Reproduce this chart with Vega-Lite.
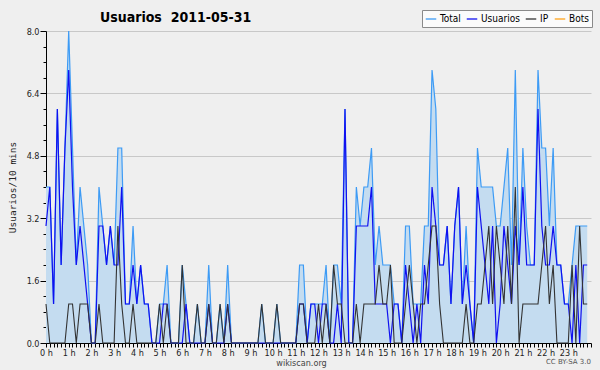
{
  "$schema": "https://vega.github.io/schema/vega-lite/v6.json",
  "autosize": "none",
  "width": 545,
  "height": 312,
  "padding": {"left": 46, "top": 31, "right": 9, "bottom": 27},
  "background": "#efefef",
  "title": {"text": "Usuarios\u00a0 2011-05-31", "anchor": "start", "frame": "group", "dx": 54, "dy": 21, "offset": 6, "fontSize": 14, "fontWeight": "bold", "font": "DejaVu Sans Condensed", "color": "#000"},
  "config": {
    "view": {"stroke": null, "fill": "#efefef"},
    "axis": {"domainColor": "#000", "tickColor": "#000", "labelFont": "DejaVu Sans Condensed", "labelFontSize": 9, "labelColor": "#222", "titleFont": "DejaVu Sans Mono", "titleFontWeight": "normal"}
  },
  "data": {"values": [
    {"m":0,"Total":4,"Usuarios":3,"IP":1},{"m":10,"Total":4,"Usuarios":4,"IP":0},{"m":20,"Total":1,"Usuarios":1,"IP":0},{"m":30,"Total":6,"Usuarios":6,"IP":0},{"m":40,"Total":2,"Usuarios":2,"IP":0},{"m":50,"Total":5,"Usuarios":5,"IP":0},
    {"m":60,"Total":8,"Usuarios":7,"IP":1},{"m":70,"Total":5,"Usuarios":4,"IP":1},{"m":80,"Total":2,"Usuarios":2,"IP":0},{"m":90,"Total":4,"Usuarios":3,"IP":1},{"m":100,"Total":3,"Usuarios":2,"IP":1},{"m":110,"Total":2,"Usuarios":1,"IP":1},
    {"m":120,"Total":0,"Usuarios":0,"IP":0},{"m":130,"Total":0,"Usuarios":0,"IP":0},{"m":140,"Total":4,"Usuarios":3,"IP":1},{"m":150,"Total":3,"Usuarios":3,"IP":0},{"m":160,"Total":2,"Usuarios":2,"IP":0},{"m":170,"Total":3,"Usuarios":3,"IP":0},
    {"m":180,"Total":2,"Usuarios":2,"IP":0},{"m":190,"Total":5,"Usuarios":2,"IP":3},{"m":200,"Total":5,"Usuarios":4,"IP":1},{"m":210,"Total":1,"Usuarios":1,"IP":0},{"m":220,"Total":1,"Usuarios":1,"IP":0},{"m":230,"Total":3,"Usuarios":2,"IP":1},
    {"m":240,"Total":1,"Usuarios":1,"IP":0},{"m":250,"Total":2,"Usuarios":2,"IP":0},{"m":260,"Total":1,"Usuarios":1,"IP":0},{"m":270,"Total":1,"Usuarios":1,"IP":0},{"m":280,"Total":0,"Usuarios":0,"IP":0},{"m":290,"Total":0,"Usuarios":0,"IP":0},
    {"m":300,"Total":1,"Usuarios":0,"IP":1},{"m":310,"Total":1,"Usuarios":1,"IP":0},{"m":320,"Total":2,"Usuarios":1,"IP":1},{"m":330,"Total":0,"Usuarios":0,"IP":0},{"m":340,"Total":0,"Usuarios":0,"IP":0},{"m":350,"Total":0,"Usuarios":0,"IP":0},
    {"m":360,"Total":2,"Usuarios":0,"IP":2},{"m":370,"Total":1,"Usuarios":1,"IP":0},{"m":380,"Total":0,"Usuarios":0,"IP":0},{"m":390,"Total":0,"Usuarios":0,"IP":0},{"m":400,"Total":1,"Usuarios":0,"IP":1},{"m":410,"Total":0,"Usuarios":0,"IP":0},
    {"m":420,"Total":0,"Usuarios":0,"IP":0},{"m":430,"Total":2,"Usuarios":1,"IP":1},{"m":440,"Total":0,"Usuarios":0,"IP":0},{"m":450,"Total":0,"Usuarios":0,"IP":0},{"m":460,"Total":1,"Usuarios":0,"IP":1},{"m":470,"Total":0,"Usuarios":0,"IP":0},
    {"m":480,"Total":2,"Usuarios":1,"IP":1},{"m":490,"Total":0,"Usuarios":0,"IP":0},{"m":500,"Total":0,"Usuarios":0,"IP":0},{"m":510,"Total":0,"Usuarios":0,"IP":0},{"m":520,"Total":0,"Usuarios":0,"IP":0},{"m":530,"Total":0,"Usuarios":0,"IP":0},
    {"m":540,"Total":0,"Usuarios":0,"IP":0},{"m":550,"Total":0,"Usuarios":0,"IP":0},{"m":560,"Total":0,"Usuarios":0,"IP":0},{"m":570,"Total":1,"Usuarios":0,"IP":1},{"m":580,"Total":0,"Usuarios":0,"IP":0},{"m":590,"Total":0,"Usuarios":0,"IP":0},
    {"m":600,"Total":0,"Usuarios":0,"IP":0},{"m":610,"Total":1,"Usuarios":0,"IP":1},{"m":620,"Total":0,"Usuarios":0,"IP":0},{"m":630,"Total":0,"Usuarios":0,"IP":0},{"m":640,"Total":0,"Usuarios":0,"IP":0},{"m":650,"Total":0,"Usuarios":0,"IP":0},
    {"m":660,"Total":0,"Usuarios":0,"IP":0},{"m":670,"Total":2,"Usuarios":1,"IP":1},{"m":680,"Total":2,"Usuarios":1,"IP":1},{"m":690,"Total":0,"Usuarios":0,"IP":0},{"m":700,"Total":1,"Usuarios":1,"IP":0},{"m":710,"Total":1,"Usuarios":1,"IP":0},
    {"m":720,"Total":1,"Usuarios":0,"IP":1},{"m":730,"Total":1,"Usuarios":1,"IP":0},{"m":740,"Total":2,"Usuarios":1,"IP":1},{"m":750,"Total":0,"Usuarios":0,"IP":0},{"m":760,"Total":2,"Usuarios":0,"IP":2},{"m":770,"Total":2,"Usuarios":1,"IP":1},
    {"m":780,"Total":1,"Usuarios":0,"IP":1},{"m":790,"Total":6,"Usuarios":6,"IP":0},{"m":800,"Total":0,"Usuarios":0,"IP":0},{"m":810,"Total":0,"Usuarios":0,"IP":0},{"m":820,"Total":4,"Usuarios":3,"IP":1},{"m":830,"Total":3,"Usuarios":3,"IP":0},
    {"m":840,"Total":4,"Usuarios":3,"IP":1},{"m":850,"Total":4,"Usuarios":3,"IP":1},{"m":860,"Total":5,"Usuarios":4,"IP":1},{"m":870,"Total":2,"Usuarios":1,"IP":1},{"m":880,"Total":3,"Usuarios":1,"IP":2},{"m":890,"Total":2,"Usuarios":1,"IP":1},
    {"m":900,"Total":2,"Usuarios":1,"IP":1},{"m":910,"Total":2,"Usuarios":0,"IP":2},{"m":920,"Total":1,"Usuarios":1,"IP":0},{"m":930,"Total":1,"Usuarios":1,"IP":0},{"m":940,"Total":0,"Usuarios":0,"IP":0},{"m":950,"Total":3,"Usuarios":2,"IP":1},
    {"m":960,"Total":3,"Usuarios":1,"IP":2},{"m":970,"Total":1,"Usuarios":0,"IP":1},{"m":980,"Total":1,"Usuarios":1,"IP":0},{"m":990,"Total":1,"Usuarios":0,"IP":1},{"m":1000,"Total":3,"Usuarios":2,"IP":1},{"m":1010,"Total":3,"Usuarios":1,"IP":2},
    {"m":1020,"Total":7,"Usuarios":4,"IP":3},{"m":1030,"Total":6,"Usuarios":3,"IP":3},{"m":1040,"Total":2,"Usuarios":2,"IP":1},{"m":1050,"Total":2,"Usuarios":2,"IP":0},{"m":1060,"Total":3,"Usuarios":3,"IP":0},{"m":1070,"Total":1,"Usuarios":1,"IP":0},
    {"m":1080,"Total":3,"Usuarios":3,"IP":0},{"m":1090,"Total":4,"Usuarios":4,"IP":0},{"m":1100,"Total":1,"Usuarios":1,"IP":0},{"m":1110,"Total":3,"Usuarios":2,"IP":1},{"m":1120,"Total":1,"Usuarios":1,"IP":0},{"m":1130,"Total":0,"Usuarios":0,"IP":0},
    {"m":1140,"Total":5,"Usuarios":4,"IP":1},{"m":1150,"Total":4,"Usuarios":3,"IP":1},{"m":1160,"Total":4,"Usuarios":2,"IP":2},{"m":1170,"Total":4,"Usuarios":1,"IP":3},{"m":1180,"Total":4,"Usuarios":3,"IP":1},{"m":1190,"Total":3,"Usuarios":0,"IP":3},
    {"m":1200,"Total":3,"Usuarios":1,"IP":2},{"m":1210,"Total":4,"Usuarios":3,"IP":1},{"m":1220,"Total":5,"Usuarios":2,"IP":3},{"m":1230,"Total":2,"Usuarios":1,"IP":1},{"m":1240,"Total":7,"Usuarios":3,"IP":4},{"m":1250,"Total":2,"Usuarios":2,"IP":0},
    {"m":1260,"Total":5,"Usuarios":4,"IP":1},{"m":1270,"Total":3,"Usuarios":2,"IP":1},{"m":1280,"Total":2,"Usuarios":2,"IP":1},{"m":1290,"Total":2,"Usuarios":2,"IP":1},{"m":1300,"Total":7,"Usuarios":6,"IP":1},{"m":1310,"Total":5,"Usuarios":3,"IP":2},
    {"m":1320,"Total":5,"Usuarios":2,"IP":3},{"m":1330,"Total":3,"Usuarios":2,"IP":1},{"m":1340,"Total":5,"Usuarios":3,"IP":2},{"m":1350,"Total":2,"Usuarios":2,"IP":0},{"m":1360,"Total":2,"Usuarios":2,"IP":0},{"m":1370,"Total":1,"Usuarios":1,"IP":0},
    {"m":1380,"Total":1,"Usuarios":1,"IP":0},{"m":1390,"Total":2,"Usuarios":0,"IP":2},{"m":1400,"Total":3,"Usuarios":2,"IP":0},{"m":1410,"Total":3,"Usuarios":0,"IP":3},{"m":1420,"Total":3,"Usuarios":2,"IP":1},{"m":1430,"Total":3,"Usuarios":2,"IP":1}
  ]},
  "transform": [{"fold": ["Total", "Usuarios", "IP"], "as": ["serie", "v"]}],
  "encoding": {
    "x": {"field": "m", "type": "quantitative", "scale": {"domain": [0, 1440], "nice": false, "zero": false},
      "axis": {"values": [0,10,20,30,40,50,60,70,80,90,100,110,120,130,140,150,160,170,180,190,200,210,220,230,240,250,260,270,280,290,300,310,320,330,340,350,360,370,380,390,400,410,420,430,440,450,460,470,480,490,500,510,520,530,540,550,560,570,580,590,600,610,620,630,640,650,660,670,680,690,700,710,720,730,740,750,760,770,780,790,800,810,820,830,840,850,860,870,880,890,900,910,920,930,940,950,960,970,980,990,1000,1010,1020,1030,1040,1050,1060,1070,1080,1090,1100,1110,1120,1130,1140,1150,1160,1170,1180,1190,1200,1210,1220,1230,1240,1250,1260,1270,1280,1290,1300,1310,1320,1330,1340,1350,1360,1370,1380,1390,1400,1410,1420,1430,1440],
        "labelExpr": "(datum.value % 60 == 0 && datum.value < 1440) ? (datum.value / 60) + ' h' : ''",
        "labelOverlap": false, "labelFlush": false, "labelBound": false, "grid": false, "tickSize": 4, "labelPadding": 1,
        "title": "wikiscan.org", "titleFont": "DejaVu Sans Condensed", "titleFontSize": 9, "titleColor": "#444", "titlePadding": 1, "titleX": 255}},
    "y": {"field": "v", "type": "quantitative", "scale": {"domain": [0, 8], "nice": false},
      "axis": {"values": [0,0.4,0.8,1.2,1.6,2,2.4,2.8,3.2,3.6,4,4.4,4.8,5.2,5.6,6,6.4,6.8,7.2,7.6,8],
        "labelExpr": "abs(datum.value / 1.6 - round(datum.value / 1.6)) < 0.01 ? format(datum.value, '.1f') : ''",
        "labelOverlap": false, "labelFlush": false, "labelBound": false,
        "grid": true, "gridColor": "#c8c8c8",
        "gridOpacity": {"condition": {"test": "abs(datum.value / 1.6 - round(datum.value / 1.6)) < 0.01 && datum.value > 0", "value": 1}, "value": 0},
        "tickSize": {"condition": {"test": "abs(datum.value / 1.6 - round(datum.value / 1.6)) < 0.01", "value": 6}, "value": 3},
        "labelPadding": 1,
        "title": "Usuarios/10 mins", "titleFontSize": 9.5, "titleColor": "#222", "titlePadding": 9}}
  },
  "layer": [
    {"transform": [{"filter": "datum.serie == 'Total'"}], "mark": {"type": "area", "color": "#c4dcf0", "opacity": 1}, "encoding": {}},
    {"transform": [{"filter": "datum.serie == 'Total'"}], "mark": {"type": "line", "strokeWidth": 1.2},
      "encoding": {"color": {"field": "serie", "type": "nominal", "scale": {"domain": ["Total", "Usuarios", "IP", "Bots"], "range": ["#3d9bf5", "#1010f0", "#333333", "#ffa31a"]},
        "legend": {"orient": "none", "legendX": 376, "legendY": -21, "direction": "horizontal", "title": null, "symbolType": "stroke", "symbolStrokeWidth": 1.3, "symbolSize": 110, "labelFont": "DejaVu Sans Condensed", "labelFontSize": 10, "labelColor": "#000", "labelOffset": 3, "columnPadding": 3, "fillColor": "#fbfbfb", "strokeColor": "#8a8a8a", "padding": 3}}}},
    {"transform": [{"filter": "datum.serie == 'Usuarios'"}], "mark": {"type": "line", "strokeWidth": 1.2}, "encoding": {"color": {"field": "serie", "type": "nominal"}}},
    {"transform": [{"filter": "datum.serie == 'IP'"}], "mark": {"type": "line", "strokeWidth": 1.1}, "encoding": {"color": {"field": "serie", "type": "nominal"}}},
    {"data": {"values": [{"m": 1440, "v": -0.48, "txt": "CC BY-SA 3.0"}]}, "transform": [], "mark": {"type": "text", "align": "right", "baseline": "middle", "fontSize": 7, "font": "DejaVu Sans", "color": "#555", "clip": false},
      "encoding": {"text": {"field": "txt"}, "x": {"field": "m", "type": "quantitative"}, "y": {"field": "v", "type": "quantitative"}}}
  ]
}
